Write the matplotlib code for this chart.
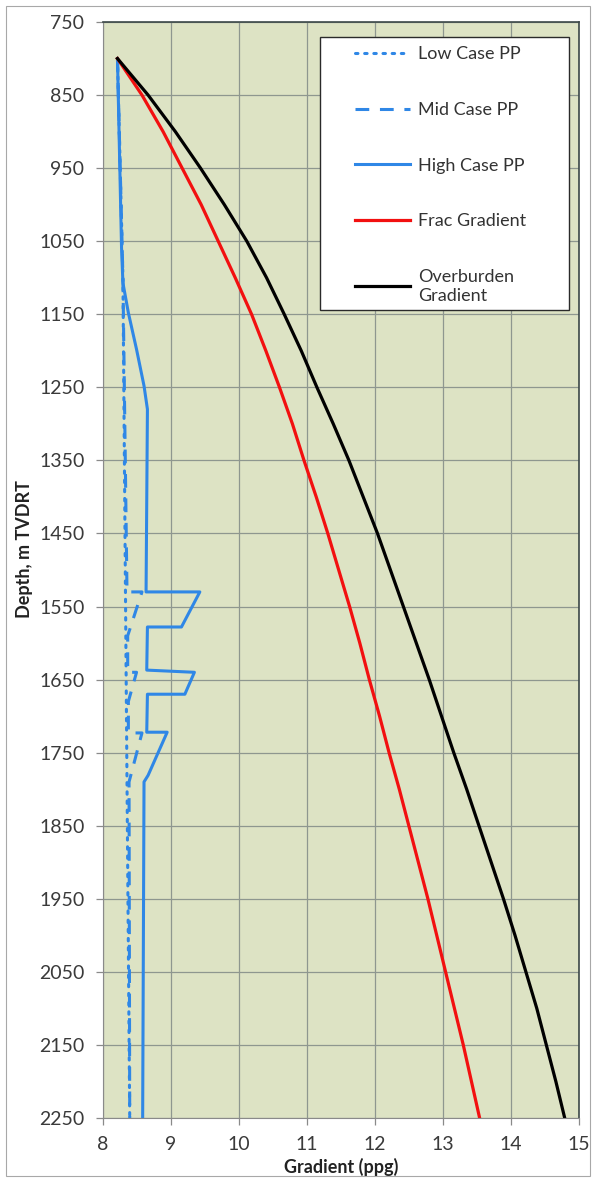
import matplotlib
matplotlib.use("Agg")
import matplotlib.pyplot as plt
from matplotlib.patches import Rectangle

plt.rcParams['font.family'] = ['Lato', 'DejaVu Sans']

# depth (m TVDRT) and gradient (ppg)
depth_curve = list(range(800, 2251, 50))
frac_ppg = [8.22, 8.58, 8.89, 9.17, 9.45, 9.70, 9.95, 10.19, 10.40, 10.60,
            10.79, 10.96, 11.14, 11.31, 11.47, 11.63, 11.78, 11.92, 12.07,
            12.21, 12.36, 12.50, 12.64, 12.78, 12.91, 13.04, 13.17, 13.30,
            13.42, 13.54]
ob_ppg = [8.22, 8.67, 9.07, 9.44, 9.79, 10.12, 10.41, 10.67, 10.92, 11.15,
          11.39, 11.62, 11.83, 12.04, 12.23, 12.42, 12.61, 12.80, 12.98,
          13.16, 13.35, 13.53, 13.71, 13.89, 14.06, 14.22, 14.38, 14.52,
          14.66, 14.79]

depth_low = [800, 1100, 2250]
low_ppg = [8.22, 8.30, 8.40]

depth_mid = [800, 1100, 1530, 1530, 1590, 1640, 1640, 1680, 1723, 1723,
             1790, 2250]
mid_ppg = [8.22, 8.30, 8.36, 8.58, 8.37, 8.37, 8.50, 8.38, 8.38, 8.58,
           8.39, 8.40]

depth_high = [800, 1060, 1107, 1148, 1198, 1248, 1280, 1530, 1530, 1578,
              1578, 1637, 1640, 1670, 1670, 1722, 1722, 1781, 1790, 2250]
high_ppg = [8.22, 8.28, 8.30, 8.38, 8.50, 8.61, 8.66, 8.64, 9.43, 9.16,
            8.66, 8.65, 9.35, 9.21, 8.66, 8.65, 8.95, 8.67, 8.61, 8.59]

x_ticks = list(range(8, 16))
y_ticks = list(range(750, 2251, 100))

blue = '#2F87E6'
W, H = 597, 1182


def main():
  fig = plt.figure(figsize=(W / 100, H / 100), dpi=100)
  fig.patch.set_facecolor('white')
  fig.patches.append(Rectangle((6 / W, 6 / H), 1 - 13 / W, 1 - 12 / H,
                               transform=fig.transFigure, fill=False,
                               edgecolor='#A8A8A8', linewidth=0.8))
  ax = fig.add_axes([102.5 / W, 1 - 1118 / H, 476.5 / W, 1096 / H])
  ax.set_facecolor('#DDE3C4')

  ax.plot(low_ppg, depth_low, color=blue, lw=2.2, linestyle=(0, (0.8, 2.2)),
          dash_capstyle='round', label='Low Case PP')
  ax.plot(mid_ppg, depth_mid, color=blue, lw=2.2, linestyle=(0, (4.5, 3.5)),
          label='Mid Case PP')
  ax.plot(high_ppg, depth_high, color=blue, lw=2.2, label='High Case PP')
  ax.plot(frac_ppg, depth_curve, color='#F21010', lw=2.3, label='Frac Gradient')
  ax.plot(ob_ppg, depth_curve, color='black', lw=2.3,
          label='Overburden\nGradient')

  ax.set_xlim(8, 15)
  ax.set_ylim(2250, 750)
  ax.set_xticks(x_ticks)
  ax.set_yticks(y_ticks)
  ax.grid(True, color='#8E978F', linewidth=0.9)
  ax.set_axisbelow(True)
  ax.tick_params(axis='both', colors='#8A8A8A', labelcolor='#3A3A3A',
                 labelsize=14, length=5, width=0.9, direction='out', pad=8)
  for s in ['left', 'bottom']:
    ax.spines[s].set_color('#8A8A8A')
  for s in ['top', 'right']:
    ax.spines[s].set_color('#3C4848')
    ax.spines[s].set_linewidth(1.2)

  ax.set_xlabel('Gradient (ppg)', fontsize=13, fontweight='bold',
                color='#222222')
  ax.set_ylabel('Depth, m TVDRT', fontsize=13, fontweight='bold',
                color='#222222', ha='left')
  ax.xaxis.set_label_coords(0.5, -0.036)
  ax.yaxis.set_label_coords(-0.146, 0.456)

  x0 = (320 - 102.5) / 476.5
  y0 = (1118 - 310) / 1096
  ax.add_patch(Rectangle((x0, y0), 0.979 - x0, 0.986 - y0,
                         transform=ax.transAxes, facecolor='white',
                         edgecolor='#2A2A2A', linewidth=1.0, zorder=4))
  leg = ax.legend(loc='upper left', bbox_to_anchor=(0.53, 0.978),
                  frameon=False, fontsize=13, borderpad=0, borderaxespad=0,
                  handlelength=3.05, handletextpad=0.45, labelspacing=2.2)
  leg.set_zorder(5)
  for t in leg.get_texts():
    t.set_color('#333333')

  fig.savefig('out.png', dpi=100)


if __name__ == '__main__':
  main()
